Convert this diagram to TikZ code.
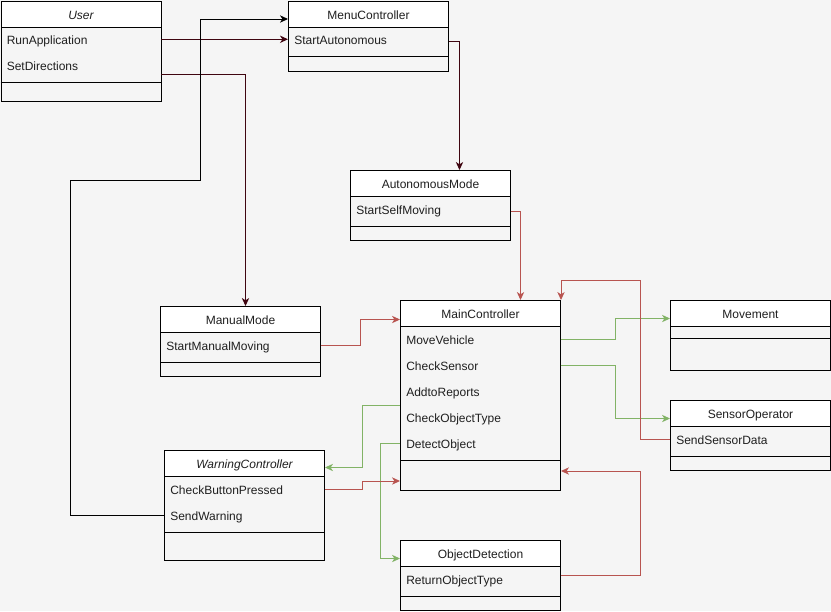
\documentclass[tikz,border=0pt]{standalone}
\usepackage{fontspec}
\setmainfont{Liberation Sans}
\usetikzlibrary{arrows.meta}
\definecolor{bg}{HTML}{F5F5F5}
\definecolor{ink}{HTML}{1F1F1F}
\definecolor{maroon}{HTML}{3F0510}
\definecolor{rust}{HTML}{B85450}
\definecolor{leaf}{HTML}{82B366}
\tikzset{
  frame/.style={draw=black, line width=0.75pt, anchor=north west, inner sep=0pt,
    minimum width=120pt},
  hdr/.style={draw=black, fill=white, line width=0.75pt, anchor=north west, inner sep=0pt,
    minimum width=120pt, minimum height=19.5pt, text=ink, text height=7.6pt, text depth=0pt,
    font=\fontsize{9}{11}\selectfont},
  row/.style={anchor=north west, inner xsep=4.5pt, inner ysep=0pt, text width=111pt,
    align=left, minimum height=19.5pt, text=ink, text height=7.8pt, text depth=0pt,
    font=\fontsize{9}{11}\selectfont},
  sepline/.style={draw=black, line width=0.75pt},
  wire/.style={line width=0.75pt,
    -{Stealth[length=6pt,width=5.5pt,inset=1.8pt]}},
  darkwire/.style={wire, draw=maroon, color=maroon},
  blackwire/.style={wire, draw=black, color=black},
  redwire/.style={wire, draw=rust, color=rust},
  greenwire/.style={wire, draw=leaf, color=leaf},
}
\begin{document}
\begin{tikzpicture}[x=0.75pt, y=-0.75pt]
\useasboundingbox[fill=bg] (0,0) rectangle (831,611);

% ---- User
\node[frame, minimum height=75pt] (user) at (0.5,0.5) {};
\node[hdr] (userhdr) at (0.5,0.5) {\itshape User};
\node[row] (ua) at (0.5,26) {RunApplication};
\node[row] (ub) at (0.5,52) {SetDirections};
\draw[sepline] (0.5,82) -- (160.5,82);

% ---- MenuController
\node[frame, minimum height=52.5pt] (menu) at (288,0.5) {};
\node[hdr] (menuhdr) at (288,0.5) {MenuController};
\node[row] (ma) at (288,26) {StartAutonomous};
\draw[sepline] (288,56) -- (448,56);

% ---- AutonomousMode
\node[frame, minimum height=52.5pt] (auto) at (350,170) {};
\node[hdr] (autohdr) at (350,170) {AutonomousMode};
\node[row] (aa) at (350,196) {StartSelfMoving};
\draw[sepline] (350,226) -- (510,226);

% ---- MainController
\node[frame, minimum height=142.5pt] (main) at (400,300) {};
\node[hdr] (mainhdr) at (400,300) {MainController};
\node[row] (mc1) at (400,326) {MoveVehicle};
\node[row] (mc2) at (400,352) {CheckSensor};
\node[row] (mc3) at (400,378) {AddtoReports};
\node[row] (mc4) at (400,404) {CheckObjectType};
\node[row] (mc5) at (400,430) {DetectObject};
\draw[sepline] (400,460) -- (560,460);

% ---- Movement
\node[frame, minimum height=52.5pt] (move) at (670,300) {};
\node[hdr] (movehdr) at (670,300) {Movement};
\draw[sepline] (670,338) -- (830,338);

% ---- SensorOperator
\node[frame, minimum height=52.5pt] (sens) at (670,400) {};
\node[hdr] (senshdr) at (670,400) {SensorOperator};
\node[row] (sa) at (670,426) {SendSensorData};
\draw[sepline] (670,456) -- (830,456);

% ---- ManualMode
\node[frame, minimum height=52.5pt] (manual) at (160,306) {};
\node[hdr] (manualhdr) at (160,306) {ManualMode};
\node[row] (mm) at (160,332) {StartManualMoving};
\draw[sepline] (160,362) -- (320,362);

% ---- WarningController
\node[frame, minimum height=82.5pt] (warn) at (164,450) {};
\node[hdr] (warnhdr) at (164,450) {\itshape WarningController};
\node[row] (wa) at (164,476) {CheckButtonPressed};
\node[row] (wb) at (164,502) {SendWarning};
\draw[sepline] (164,532) -- (324,532);

% ---- ObjectDetection
\node[frame, minimum height=52.5pt] (objd) at (400,540) {};
\node[hdr] (objdhdr) at (400,540) {ObjectDetection};
\node[row] (oa) at (400,566) {ReturnObjectType};
\draw[sepline] (400,596) -- (560,596);

% ---- connectors
\draw[darkwire] (ua.east) -- (ma.west);
\draw[darkwire] ([yshift=-6.75pt]ub.east) -| ([xshift=3.75pt]manual.north);
\draw[blackwire] (wb.west) -- ++(-94,0) |- (200,180) |- ([yshift=-3.75pt]menuhdr.west);
\draw[darkwire] ([yshift=-1.5pt]ma.east) -| ([xshift=21.75pt]auto.north);
\draw[redwire] ([yshift=-1.5pt]aa.east) -| ([xshift=30pt]main.north);
\draw[redwire] (mm.east) -- ++(40,0) |- ([yshift=-4.5pt]mainhdr.west);
\draw[greenwire] (mc1.east) -- ++(55,0) |- ([yshift=-3.75pt]movehdr.west);
\draw[greenwire] (mc2.east) -- ++(55,0) |- ([yshift=-3.75pt]senshdr.west);
\draw[redwire] (sa.west) -- ++(-30,0) |- ([yshift=15pt]main.north east) -- (main.north east);
\draw[greenwire] ([yshift=9pt]mc4.west) -- ++(-38,0) |- ([yshift=-3pt]warnhdr.east);
\draw[greenwire] (mc5.west) -- ++(-20,0) |- ([yshift=-3.75pt]objdhdr.west);
\draw[redwire] (wa.east) -- ++(38,0) |- ([yshift=7.5pt]main.south west);
\draw[redwire] ([yshift=3pt]oa.east) -- ++(80,0) |- ([yshift=15pt]main.south east);
\end{tikzpicture}
\end{document}
